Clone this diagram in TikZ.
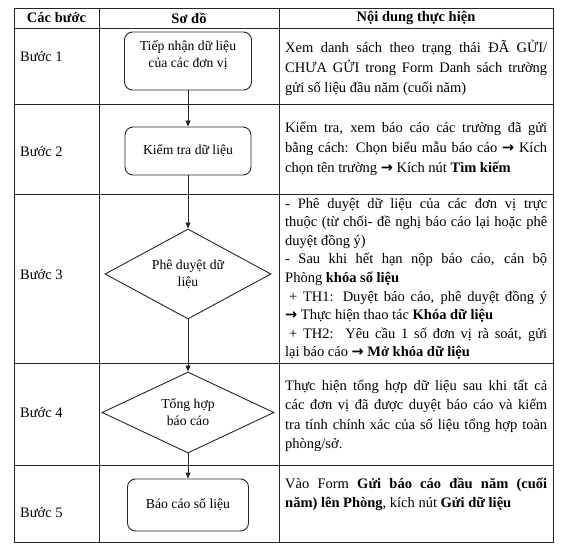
\documentclass[tikz,border=0pt]{standalone}
\usepackage{fontspec}
\setmainfont{Liberation Serif}
\newfontfamily\arrfont{DejaVu Sans}
\usetikzlibrary{shapes.geometric,arrows.meta}
\newcommand\bodyfont{\fontsize{14.5}{19.6}\selectfont}
\newcommand\bodyfontb{\fontsize{14.5}{18.6}\selectfont}
\newcommand\flowfont{\fontsize{13.7}{17}\selectfont}
\newcommand\arr{{\arrfont\bfseries →}}
\begin{document}
\begin{tikzpicture}[x=1pt,y=-1pt,
  grid/.style={line width=0.9pt,draw=black!85},
  box/.style={draw=black!85,line width=0.9pt,rounded corners=8pt,inner sep=0pt,align=center,font=\flowfont},
  dia/.style={draw=black!85,diamond,aspect=2,line width=0.9pt,inner sep=0pt,align=center,font=\flowfont},
  ftext/.style={inner sep=0pt,align=center,font=\flowfont},
  flow/.style={draw=black!85,line width=0.9pt,-{Triangle[length=6pt,width=5pt]}},
  body/.style={anchor=base west,inner sep=0pt,text width=262pt,align=justify,font=\bodyfont},
  bodyb/.style={anchor=base west,inner sep=0pt,text width=262pt,align=justify,font=\bodyfontb},
  steplbl/.style={anchor=west,inner sep=0pt,font=\bodyfont},
  head/.style={inner sep=0pt,font=\bodyfont\bfseries}]
\useasboundingbox[fill=white] (0,0) rectangle (570,548);
% table grid
\draw[grid] (14,8) rectangle (553,542);
\draw[grid] (14,28) -- (553,28) (14,104) -- (553,104) (14,194) -- (553,194)
  (14,363) -- (553,363) (14,465) -- (553,465)
  (99,8) -- (99,542) (279,8) -- (279,542);
% header
\node[head] (h1) at (56.5,18) {Các bước};
\node[head] (h2) at (189,18) {Sơ đồ};
\node[head] (h3) at (416,18) {Nội dung thực hiện};
% step labels
\node[steplbl] (s1) at (20,57) {Bước 1};
\node[steplbl] (s2) at (20,152) {Bước 2};
\node[steplbl] (s3) at (20,275) {Bước 3};
\node[steplbl] (s4) at (20,413) {Bước 4};
\node[steplbl] (s5) at (20,513) {Bước 5};
% flowchart
\node[box,minimum width=127pt,minimum height=58pt] (b1) at (188,61) {};
\node[ftext] (t1) at ([yshift=6pt]b1.center) {Tiếp nhận dữ liệu\\của các đơn vị};
\node[box,minimum width=126pt,minimum height=48pt] (b2) at (188,151) {Kiểm tra dữ liệu};
\node[dia,minimum width=166pt,minimum height=90pt] (d3) at (188,274) {Phê duyệt dữ\\liệu};
\node[dia,minimum width=172pt,minimum height=81pt] (d4) at (188,412.5) {Tổng hợp\\báo cáo};
\node[box,minimum width=121pt,minimum height=52pt] (b5) at (188,505) {Báo cáo số liệu};
\draw[flow] (b1) -- (b2);
\draw[flow] (b2) -- (d3);
\draw[flow] (d3) -- (d4);
\draw[flow] (d4) -- (b5);
% content column
\node[body] (r1) at (285,53) {Xem danh sách theo trạng thái ĐÃ GỬI/\linebreak CHƯA GỬI trong Form Danh sách trường\linebreak gửi số liệu đầu năm (cuối năm)};
\node[body] (r2) at (285,133) {Kiểm tra, xem báo cáo các trường đã gửi\linebreak bằng cách: Chọn biểu mẫu báo cáo \arr{} Kích\linebreak chọn tên trường \arr{} Kích nút \textbf{Tìm kiếm}};
\node[bodyb] (r3) at (285,208) {- Phê duyệt dữ liệu của các đơn vị trực\linebreak thuộc (từ chối- đề nghị báo cáo lại hoặc phê\linebreak duyệt đồng ý)\\- Sau khi hết hạn nộp báo cáo, cán bộ\linebreak Phòng \textbf{khóa số liệu}\\\hspace*{4pt}+ TH1: Duyệt báo cáo, phê duyệt đồng ý\linebreak \arr{} Thực hiện thao tác \textbf{Khóa dữ liệu}\\\hspace*{4pt}+ TH2:\ \ Yêu cầu 1 số đơn vị rà soát, gửi\linebreak lại báo cáo \arr{} \textbf{Mở khóa dữ liệu}};
\node[body] (r4) at (285,390) {Thực hiện tổng hợp dữ liệu sau khi tất cả\linebreak các đơn vị đã được duyệt báo cáo và kiểm\linebreak tra tính chính xác của số liệu tổng hợp toàn\linebreak phòng/sở.};
\node[body] (r5) at (285,488) {Vào Form \textbf{Gửi báo cáo đầu năm (cuối}\linebreak \textbf{năm) lên Phòng}, kích nút \textbf{Gửi dữ liệu}};
\end{tikzpicture}
\end{document}
